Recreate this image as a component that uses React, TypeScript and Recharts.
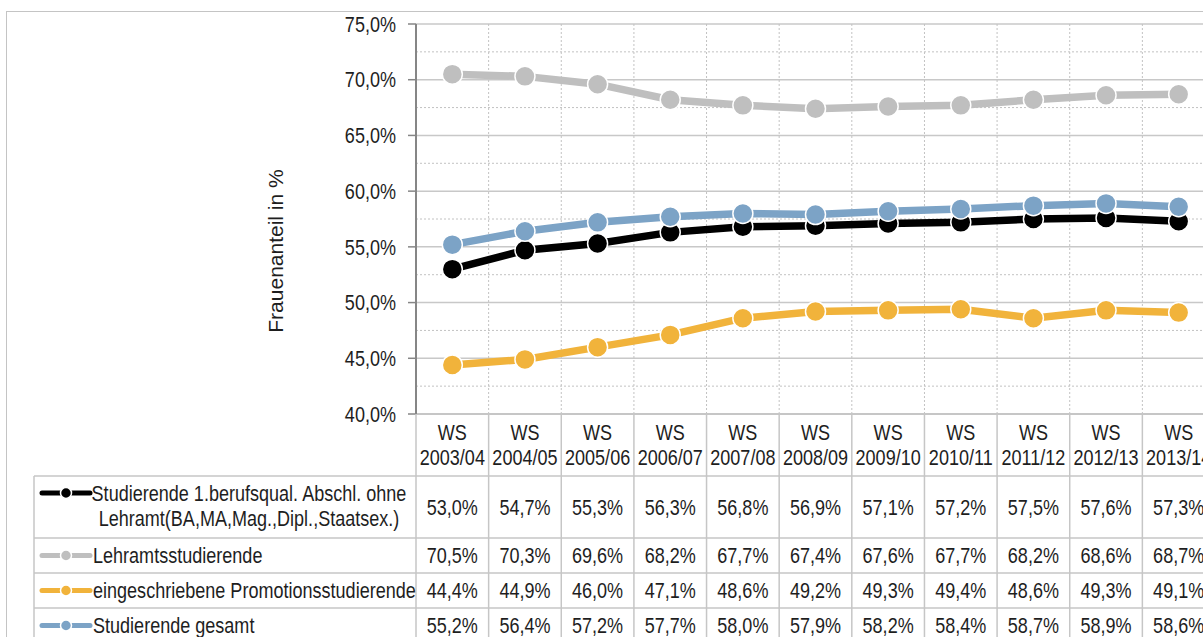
import React from 'react';
import { LineChart, Line, XAxis, YAxis, CartesianGrid } from 'recharts';

// ---------- data ----------
const categories = [
  'WS 2003/04', 'WS 2004/05', 'WS 2005/06', 'WS 2006/07', 'WS 2007/08', 'WS 2008/09',
  'WS 2009/10', 'WS 2010/11', 'WS 2011/12', 'WS 2012/13', 'WS 2013/14',
];
const abschlussValues = [53.0, 54.7, 55.3, 56.3, 56.8, 56.9, 57.1, 57.2, 57.5, 57.6, 57.3];
const lehramtValues = [70.5, 70.3, 69.6, 68.2, 67.7, 67.4, 67.6, 67.7, 68.2, 68.6, 68.7];
const promotionValues = [44.4, 44.9, 46.0, 47.1, 48.6, 49.2, 49.3, 49.4, 48.6, 49.3, 49.1];
const gesamtValues = [55.2, 56.4, 57.2, 57.7, 58.0, 57.9, 58.2, 58.4, 58.7, 58.9, 58.6];

const seriesKeys = ['abschluss', 'lehramt', 'promotion', 'gesamt'];
const seriesLabelLines = [
  ['Studierende 1.berufsqual. Abschl. ohne', 'Lehramt(BA,MA,Mag.,Dipl.,Staatsex.)'],
  ['Lehramtsstudierende'],
  ['eingeschriebene Promotionsstudierende'],
  ['Studierende gesamt'],
];
const seriesColors = ['#000000', '#BFBFBF', '#F1B33B', '#7CA3C6'];
const seriesValues = [abschlussValues, lehramtValues, promotionValues, gesamtValues];

const yTicks = [40, 45, 50, 55, 60, 65, 70, 75];
const yMinorTicks = [42.5, 47.5, 52.5, 57.5, 62.5, 67.5, 72.5];
const yDomain = [40, 75];
const yAxisTitle = 'Frauenanteil in %';

const data = categories.map((c, i) => {
  const row: any = { category: c };
  seriesKeys.forEach((k, s) => { row[k] = seriesValues[s][i]; });
  return row;
});

// ---------- layout ----------
const FONT = "'Liberation Sans', Arial, sans-serif";
const NARROW = 0.82;
const TEXT = '#1e1e1e';
const CHART_W = 1230;
const CHART_H = 637;
const MARGIN = { top: 24, right: 15, left: 0, bottom: 0 };
const YAXIS_W = 416;
const XAXIS_H = 223;
const PLOT_W = CHART_W - MARGIN.right - MARGIN.left - YAXIS_W;
const COL_W = PLOT_W / categories.length;
const AXIS_Y = CHART_H - XAXIS_H;
const ROW_LINES = [476, 538, 573, 608, 643];
const LEGEND_LEFT = 34;
const TABLE_LINE = '#c6c6c6';
const FS = 22;

const fmt = (v: number) => v.toFixed(1).replace('.', ',') + '%';

const NText = ({ x, y, anchor = 'middle', children }: any) => (
  <text
    transform={`translate(${x} ${y}) scale(${NARROW} 1)`}
    x={0}
    y={0}
    textAnchor={anchor}
    dominantBaseline="central"
    fontFamily={FONT}
    fontSize={FS}
    fill={TEXT}
  >
    {children}
  </text>
);

const YTick = (props: any) => {
  const { x, y, payload } = props;
  return <NText x={x} y={y} anchor="end">{fmt(payload.value)}</NText>;
};

const TableTick = (props: any) => {
  const { x, payload } = props;
  const idx = payload && payload.index != null ? payload.index : props.index;
  const label = String(payload.value);
  const sp = label.indexOf(' ');
  const l1 = label.slice(0, sp);
  const l2 = label.slice(sp + 1);
  const left = x - COL_W / 2;
  const right = x + COL_W / 2;
  return (
    <g>
      {idx === 0 && (
        <g>
          {ROW_LINES.map((ly, r) => (
            <line key={'h' + r} x1={LEGEND_LEFT} x2={CHART_W} y1={ly} y2={ly} stroke={TABLE_LINE} strokeWidth={1.5} />
          ))}
          <line x1={LEGEND_LEFT} x2={LEGEND_LEFT} y1={ROW_LINES[0]} y2={CHART_H} stroke={TABLE_LINE} strokeWidth={1.5} />
          <line x1={left} x2={left} y1={AXIS_Y} y2={CHART_H} stroke={TABLE_LINE} strokeWidth={1.5} />
          {seriesLabelLines.map((lines, s) => {
            const top = ROW_LINES[s];
            const bottom = ROW_LINES[s + 1];
            const cy = lines.length > 1 ? top + 17 : (top + bottom) / 2;
            return (
              <g key={'lg' + s}>
                <line x1={42} x2={90} y1={cy} y2={cy} stroke={seriesColors[s]} strokeWidth={5} strokeLinecap="round" />
                <circle cx={66} cy={cy} r={5.5} fill={seriesColors[s]} stroke="#fff" strokeWidth={1.5} />
                {lines.length > 1 ? (
                  lines.map((t, li) => (
                    <NText key={li} x={249} y={cy + li * 25.5} anchor="middle">{t}</NText>
                  ))
                ) : (
                  <NText x={93} y={cy} anchor="start">{lines[0]}</NText>
                )}
              </g>
            );
          })}
        </g>
      )}
      <line x1={right} x2={right} y1={AXIS_Y} y2={CHART_H} stroke={TABLE_LINE} strokeWidth={1.5} />
      <NText x={x} y={432}>{l1}</NText>
      <NText x={x} y={457}>{l2}</NText>
      {seriesValues.map((vals, s) => (
        <NText key={s} x={x} y={(ROW_LINES[s] + ROW_LINES[s + 1]) / 2}>
          {fmt(vals[idx])}
        </NText>
      ))}
    </g>
  );
};

const YTitle = () => (
  <text
    x={275}
    y={251}
    transform="rotate(-90 275 251)"
    textAnchor="middle"
    dominantBaseline="central"
    fontFamily={FONT}
    fontSize={21}
    fill={TEXT}
  >
    {yAxisTitle}
  </text>
);

const minorGen = (p: any) => {
  const off = p.offset;
  return yMinorTicks.map((v) => off.top + ((yDomain[1] - v) / (yDomain[1] - yDomain[0])) * off.height);
};
const boundaryGen = (p: any) => {
  const off = p.offset;
  const w = off.width / categories.length;
  return categories.map((_, i) => off.left + (i + 1) * w);
};

export default function App() {
  return (
    <div style={{ position: 'fixed', left: 0, top: 0, width: 1203, height: 637, overflow: 'hidden', background: '#fff' }}>
      <div
        style={{
          position: 'absolute', left: 6, top: 11, width: 1400, height: 800,
          borderLeft: '1.5px solid #c4c4c4', borderTop: '1.5px solid #c4c4c4',
        }}
      />
      <div style={{ position: 'absolute', left: 0, top: 0 }}>
        <LineChart width={CHART_W} height={CHART_H} data={data} margin={MARGIN}>
          <CartesianGrid vertical={false} stroke="#c8c8c8" strokeWidth={1.5} />
          <CartesianGrid
            horizontalCoordinatesGenerator={minorGen}
            verticalCoordinatesGenerator={boundaryGen}
            stroke="#c2c2c2"
            strokeDasharray="2 2"
            strokeWidth={1}
          />
          <XAxis
            dataKey="category"
            height={XAXIS_H}
            interval={0}
            padding={{ left: COL_W / 2, right: COL_W / 2 }}
            tickLine={false}
            axisLine={{ stroke: '#c6c6c6', strokeWidth: 2 }}
            tick={<TableTick />}
          />
          <YAxis
            width={YAXIS_W}
            domain={yDomain}
            ticks={yTicks}
            type="number"
            allowDataOverflow
            tickSize={8}
            tickMargin={12}
            axisLine={{ stroke: '#868686', strokeWidth: 2 }}
            tickLine={{ stroke: '#868686', strokeWidth: 1.5 }}
            tick={<YTick />}
            label={<YTitle />}
          />
          {seriesKeys.map((k, s) => (
            <Line
              key={k}
              dataKey={k}
              name={seriesLabelLines[s].join(' ')}
              type="linear"
              stroke={seriesColors[s]}
              strokeWidth={7.5}
              dot={{ r: 10, fill: seriesColors[s], stroke: '#fff', strokeWidth: 1.5 }}
              activeDot={false}
              isAnimationActive={false}
            />
          ))}
        </LineChart>
      </div>
    </div>
  );
}
